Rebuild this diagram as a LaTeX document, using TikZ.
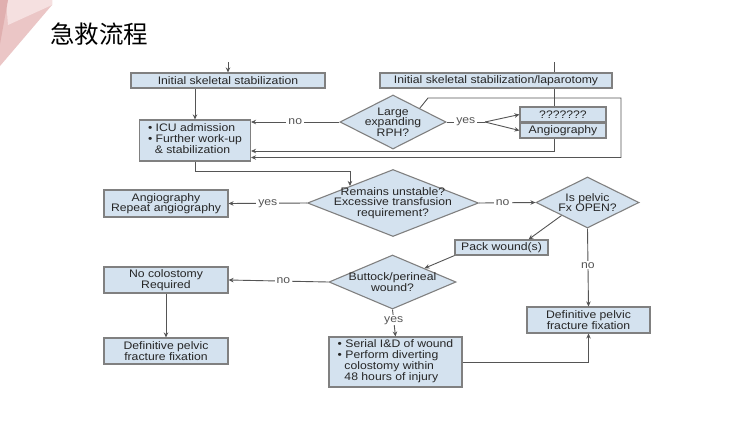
\documentclass[tikz,border=0pt]{standalone}
\usepackage{fontspec}
\setmainfont{Liberation Sans}[FakeStretch=1.12]
\newfontfamily\cjk{Noto Sans CJK SC}
\usetikzlibrary{shapes.geometric,arrows.meta,calc,backgrounds}
\definecolor{boxfill}{HTML}{D4E2EF}
\definecolor{boxline}{HTML}{808080}
\definecolor{lnc}{HTML}{555555}
\definecolor{txt}{HTML}{262626}
\definecolor{pinkA}{HTML}{EBC6C6}
\definecolor{pinkB}{HTML}{F5E0E0}
\definecolor{pinkC}{HTML}{E0AFAF}
\newcommand{\fs}{\fontsize{10.9pt}{10.4pt}\selectfont}
\begin{document}
\begin{tikzpicture}[x=1pt,y=-1pt,
  box/.style={draw=boxline, line width=1.1pt, fill=boxfill, inner sep=0pt, font=\fs, text=txt, align=center},
  dia/.style={diamond, draw=boxline, line width=1.1pt, fill=boxfill, inner sep=0pt},
  dtext/.style={font=\fs, text=txt, align=center, inner sep=0pt},
  lab/.style={fill=white, inner xsep=2pt, inner ysep=1pt, font=\fs, text=lnc},
  conn/.style={draw=lnc, line width=0.9pt},
  arr/.style={conn, -{Stealth[length=5pt,width=4.5pt]}}]
\useasboundingbox (0,0) rectangle (750,421);
% title
\node[font=\cjk\fontsize{24.5pt}{24.5pt}\selectfont, text=black] (title) at (99,34) {急救流程};
% boxes
\node[box, minimum width=194pt, minimum height=15pt] (b1) at (228,80.5) {Initial skeletal stabilization};
\node[box, minimum width=232pt, minimum height=15pt] (b2) at (496,80.5) {Initial skeletal stabilization/laparotomy};
\node[box, minimum width=111pt, minimum height=41pt] (icu) at (195,140.5)
  {\begin{tabular}{@{}l@{}}\textbullet\ ICU admission\\\textbullet\ Further work-up\\\hspace*{0.62em}\& stabilization\end{tabular}};
\node[dia, minimum width=106pt, minimum height=54pt] (d1) at (393,122) {};
\node[dtext] (d1t) at (d1) {Large\\expanding\\RPH?};
\node[box, minimum width=86pt, minimum height=15pt] (q) at (563,114.5) {???????};
\node[box, minimum width=86pt, minimum height=15pt] (ang1) at (563,130.5) {Angiography};
\node[dia, minimum width=171pt, minimum height=67pt] (d2) at (393,203) {};
\node[dtext] (d2t) at (d2) {Remains unstable?\\Excessive transfusion\\requirement?};
\node[box, minimum width=124pt, minimum height=27pt] (ang2) at (166,203.5) {Angiography\\Repeat angiography};
\node[dia, minimum width=103pt, minimum height=51pt] (d3) at (587.5,202.5) {};
\node[dtext] (d3t) at (d3) {Is pelvic\\Fx OPEN?};
\node[box, minimum width=93pt, minimum height=15pt] (pack) at (501.5,247.5) {Pack wound(s)};
\node[dia, minimum width=127pt, minimum height=54pt] (d4) at (392.5,282) {};
\node[dtext] (d4t) at (d4) {Buttock/perineal\\wound?};
\node[box, minimum width=124pt, minimum height=26pt] (nocol) at (166,280) {No colostomy\\Required};
\node[box, minimum width=124pt, minimum height=26pt] (def1) at (166,351) {Definitive pelvic\\fracture fixation};
\node[box, minimum width=123pt, minimum height=26pt] (def2) at (588.5,320) {Definitive pelvic\\fracture fixation};
\node[box, minimum width=133pt, minimum height=50pt] (serial) at (395.5,362)
  {\begin{tabular}{@{}l@{}}\textbullet\ Serial I\&D of wound\\\textbullet\ Perform diverting\\\hspace*{0.62em}colostomy within\\\hspace*{0.62em}48 hours of injury\end{tabular}};
% coordinates
\coordinate (t1) at (228,62);
\coordinate (vtop) at (554,62);
\coordinate (vbot) at (554,151);
\coordinate (split) at (485,122);
\coordinate (l1) at (428,98);
\coordinate (l2) at (621,98);
\coordinate (l3) at (621,157.5);
% background: white page, decoration, line behind boxes
\begin{pgfonlayer}{background}
\fill[white] (0,0) rectangle (750,421);
\fill[pinkA] (0,0) -- (52,0) -- (52,5) -- (0,66) -- cycle;
\fill[pinkB] (6,0) -- (52,0) -- (52,5) -- (8,25) -- cycle;
\fill[pinkC] (0,0) -- (8,0) -- (0,44) -- cycle;
\draw[arr] (vtop) -- (vbot) -- (vbot -| icu.east);
\end{pgfonlayer}
% connectors
\draw[arr] (t1) -- (b1.north);
\draw[arr] (b1.south -| icu.north) -- (icu.north);
\draw[arr] (d1.west) -- node[lab]{no} (d1.west -| icu.east);
\draw[conn] (d1.east) -- node[lab]{yes} (split);
\draw[arr] (split) -- (q.west);
\draw[arr] (split) -- (ang1.west);
\draw[arr] (d1.north east) -- (l1) -- (l2) -- (l3) -- (l3 -| icu.east);
\draw[arr] (icu.south) -- ++(0,9.5) -| (d2.north west);
\draw[arr] (d2.west) -- node[lab]{yes} (ang2.east);
\draw[arr] (d2.east) -- node[lab, pos=0.42]{no} (d3.west);
\draw[arr] (d3.south west) -- ($(pack.north)+(27,0)$);
\draw[arr] (pack.south west) -- (d4.north east);
\draw[arr] (d3.south) -- node[lab, pos=0.47]{no} (def2.north);
\draw[arr] (d4.west) -- node[lab, pos=0.45]{no} (nocol.east);
\draw[arr] (nocol.south) -- (def1.north);
\draw[arr] (d4.south) -- node[lab, pos=0.4]{yes} (serial.north);
\draw[arr] (serial.east) -| (def2.south);
\end{tikzpicture}
\end{document}
